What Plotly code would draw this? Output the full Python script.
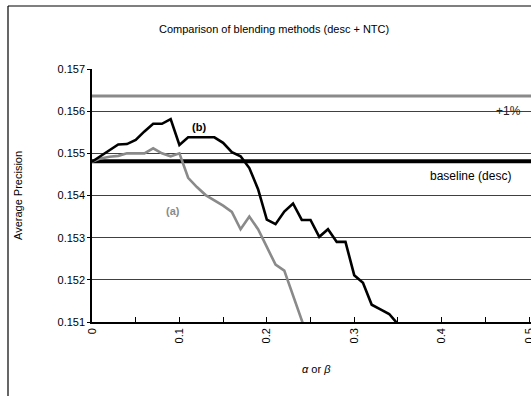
import plotly.graph_objects as go

# ---- data ----
alpha_b = [0.00, 0.01, 0.02, 0.03, 0.04, 0.05, 0.06, 0.07, 0.08, 0.09,
           0.10, 0.11, 0.12, 0.13, 0.14, 0.15, 0.16, 0.17, 0.18, 0.19,
           0.20, 0.21, 0.22, 0.23, 0.24, 0.25, 0.26, 0.27, 0.28, 0.29,
           0.30, 0.31, 0.32, 0.33, 0.34, 0.35]
ap_b = [0.15480, 0.15493, 0.15506, 0.15521, 0.15522, 0.15532, 0.15552, 0.15570, 0.15570, 0.15581,
        0.15520, 0.15538, 0.15538, 0.15538, 0.15538, 0.15525, 0.15503, 0.15493, 0.15465, 0.15415,
        0.15343, 0.15332, 0.15362, 0.15381, 0.15342, 0.15342, 0.15302, 0.15320, 0.15290, 0.15290,
        0.15211, 0.15193, 0.15141, 0.15130, 0.15119, 0.15095]

alpha_a = [0.00, 0.01, 0.02, 0.03, 0.04, 0.05, 0.06, 0.07, 0.08, 0.09,
           0.10, 0.11, 0.12, 0.13, 0.14, 0.15, 0.16, 0.17, 0.18, 0.19,
           0.20, 0.21, 0.22, 0.23, 0.24, 0.25]
ap_a = [0.15480, 0.15488, 0.15492, 0.15494, 0.15500, 0.15500, 0.15500, 0.15512, 0.15500, 0.15493,
        0.15500, 0.15442, 0.15420, 0.15401, 0.15389, 0.15376, 0.15361, 0.15320, 0.15350, 0.15320,
        0.15278, 0.15236, 0.15222, 0.15163, 0.15104, 0.15045]

baseline_val = 0.15481
plus1_val = 0.15636
ref_x = [0.0, 0.6]

x_tickvals = [0.0, 0.1, 0.2, 0.3, 0.4, 0.5]
x_ticktext = ["0", "0.1", "0.2", "0.3", "0.4", "0.5"]
x_minor_tickvals = [0.05, 0.15, 0.25, 0.35, 0.45]
y_tickvals = [0.151, 0.152, 0.153, 0.154, 0.155, 0.156, 0.157]

FONT = "Liberation Sans, Arial, sans-serif"
GRAY = "#8a8a8a"

fig = go.Figure()
fig.add_trace(go.Scatter(x=ref_x, y=[plus1_val, plus1_val], mode="lines",
                         line=dict(color=GRAY, width=3), hoverinfo="skip"))
fig.add_trace(go.Scatter(x=ref_x, y=[baseline_val, baseline_val], mode="lines",
                         line=dict(color="black", width=4), hoverinfo="skip"))
fig.add_trace(go.Scatter(x=alpha_a, y=ap_a, mode="lines",
                         line=dict(color=GRAY, width=2.6)))
fig.add_trace(go.Scatter(x=alpha_b, y=ap_b, mode="lines",
                         line=dict(color="black", width=2.6)))

# chart area is wider than the 531px window (as in the reference, which is cropped)
L, T, B = 92, 69, 74
W, H = 548, 396
pw = W - L
ph = H - T - B
X_END = 0.5217

def px_to_paper_x(px):
    return (px - L) / pw

def px_to_paper_y(py):
    return (H - B - py) / ph

fig.update_layout(
    width=W, height=H,
    autosize=False,
    margin=dict(l=L, r=0, t=T, b=B, pad=0, autoexpand=False),
    paper_bgcolor="white", plot_bgcolor="white",
    showlegend=False,
    font=dict(family=FONT, size=11, color="black"),
    xaxis=dict(range=[0, X_END], tickvals=x_tickvals, ticktext=x_ticktext,
               automargin=False,
               tickangle=-90, ticks="inside", ticklen=5, tickcolor="black",
               ticklabeloverflow="allow",
               minor=dict(ticks="inside", tickvals=x_minor_tickvals, ticklen=5,
                          tickcolor="black", showgrid=False),
               showgrid=False, zeroline=False, showline=True, linecolor="black", linewidth=1.5,
               tickfont=dict(size=11)),
    yaxis=dict(range=[0.151, 0.157], tickvals=y_tickvals, tickformat=".3f",
               automargin=False,
               showgrid=True, gridcolor="#404040", gridwidth=1,
               ticks="outside", ticklen=3, tickcolor="black",
               zeroline=False, showline=True, linecolor="black", linewidth=1.5,
               tickfont=dict(size=11)),
    shapes=[dict(type="line", xref="paper", yref="paper",
                 x0=px_to_paper_x(8), x1=px_to_paper_x(8), y0=-0.5, y1=px_to_paper_y(6),
                 line=dict(color="black", width=1.2)),
            dict(type="line", xref="paper", yref="paper",
                 x0=px_to_paper_x(8), x1=1.3, y0=px_to_paper_y(6), y1=px_to_paper_y(6),
                 line=dict(color="black", width=1.2))],
    annotations=[
        dict(text="Comparison of blending methods (desc + NTC)", xref="paper", yref="paper",
             x=px_to_paper_x(274), y=px_to_paper_y(29), showarrow=False,
             font=dict(size=11), xanchor="center", yanchor="middle"),
        dict(text="<i>α</i> or <i>β</i>", xref="paper", yref="paper",
             x=px_to_paper_x(316), y=px_to_paper_y(369), showarrow=False,
             font=dict(size=11), xanchor="center", yanchor="middle"),
        dict(text="Average Precision", xref="paper", yref="paper",
             x=px_to_paper_x(18), y=px_to_paper_y(196), showarrow=False, textangle=-90,
             font=dict(size=11), xanchor="center", yanchor="middle"),
        dict(text="+1%", x=0.476, y=0.15601, showarrow=False,
             font=dict(size=12, color="#222"), xanchor="center", yanchor="middle"),
        dict(text="baseline (desc)", x=0.4325, y=0.15447, showarrow=False,
             font=dict(size=12), xanchor="center", yanchor="middle"),
        dict(text="<b>(b)</b>", x=0.1219, y=0.15563, showarrow=False,
             font=dict(size=11), xanchor="center", yanchor="middle"),
        dict(text="<b>(a)</b>", x=0.0932, y=0.15364, showarrow=False,
             font=dict(size=11, color=GRAY), xanchor="center", yanchor="middle"),
    ],
)

fig.write_html(
    "out.html",
    config={"displayModeBar": False},
    post_script="document.documentElement.style.overflow='hidden';"
                "document.body.style.margin='0';document.body.style.overflow='hidden';",
)
